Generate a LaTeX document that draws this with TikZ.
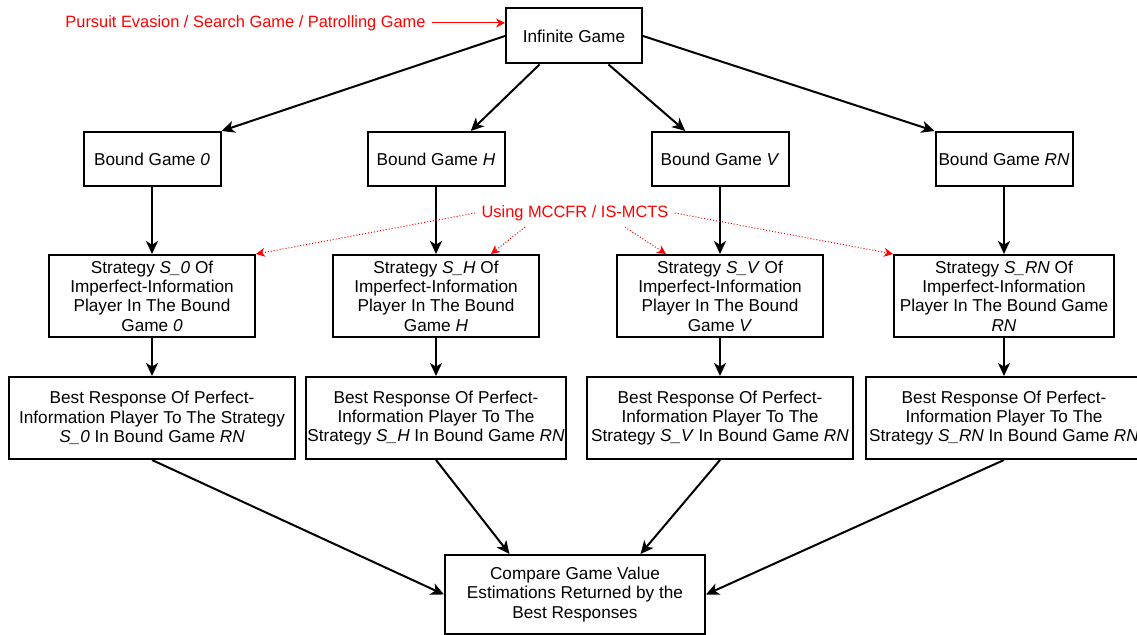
\documentclass[tikz,border=0pt]{standalone}
\usepackage{fontspec}
\setmainfont{Liberation Sans}
\usetikzlibrary{positioning, arrows.meta, calc}
\tikzset{
>={Stealth[length=6.5pt, width=6pt, inset=1.8pt]}, % filled black heads
node distance=142pt, % spacing between the four columns
block/.style={draw, line width=1pt, inner sep=0.5pt, align=center, font=\fontsize{8.6}{9.65}\selectfont}, % every box
game/.style={block, minimum width=68.5pt, minimum height=27pt}, % bound games
strat/.style={block, minimum width=103pt, minimum height=41pt}, % strategies
resp/.style={block, minimum width=133pt, minimum height=41pt}, % best responses
link/.style={->, line width=1pt}, % black connectors
note/.style={text=red, inner sep=3pt, font=\fontsize{8.2}{9.5}\selectfont}, % red remarks
noteline/.style={-{Stealth[length=4.5pt, width=4.5pt]}, red, line width=0.5pt},
dotline/.style={noteline, densely dotted},
}

\begin{document}
\begin{tikzpicture}[x=0.5pt, y=-0.5pt]
                \useasboundingbox (0,0) rectangle (1137,635);
                \fill[white] (0,0) rectangle (1137,635);
                \clip (0,0) rectangle (1137,635);

                \node[block, minimum width=68pt, minimum height=27.5pt] (inf) at (574,36) {Infinite Game};

                \node[game] (bg0) at (152,159) {Bound Game \textit{0}};
                \node[game, right of=bg0] (bgH) {Bound Game \textit{H}};
                \node[game, right of=bgH] (bgV) {Bound Game \textit{V}};
                \node[game, right of=bgV] (bgRN) {Bound Game \textit{RN}};

                \node[strat, below of=bg0, node distance=68.5pt] (st0) {Strategy \textit{S\_0} Of\\Imperfect-Information\\Player In The Bound\\Game \textit{0}};
                \node[strat, right of=st0] (stH) {Strategy \textit{S\_H} Of\\Imperfect-Information\\Player In The Bound\\Game \textit{H}};
                \node[strat, right of=stH] (stV) {Strategy \textit{S\_V} Of\\Imperfect-Information\\Player In The Bound\\Game \textit{V}};
                \node[strat, right of=stV, minimum width=110pt] (stRN) {Strategy \textit{S\_RN} Of\\Imperfect-Information\\Player In The Bound Game\\\textit{RN}};

                \node[resp, below of=st0, node distance=61pt, minimum width=143pt] (br0) {Best Response Of Perfect-\\Information Player To The Strategy\\\textit{S\_0} In Bound Game \textit{RN}};
                \node[resp, right of=br0, minimum width=129.5pt] (brH) {Best Response Of Perfect-\\Information Player To The\\Strategy \textit{S\_H} In Bound Game \textit{RN}};
                \node[resp, right of=brH] (brV) {Best Response Of Perfect-\\Information Player To The\\Strategy \textit{S\_V} In Bound Game \textit{RN}};
                \node[resp, right of=brV, minimum width=138pt] (brRN) {Best Response Of Perfect-\\Information Player To The\\Strategy \textit{S\_RN} In Bound Game \textit{RN}};

                \node[block, minimum width=130pt, minimum height=39.5pt] (cmp) at (575,594.5) {Compare Game Value\\Estimations Returned by the\\Best Responses};

                \node[note] (pe) at (245.5,23) {Pursuit Evasion / Search Game / Patrolling Game};
                \node[note] (us) at (575,213) {Using MCCFR / IS-MCTS};

                \path[link]
                    (inf.west) edge (bg0.north east)
                    ($(inf.south west)!0.25!(inf.south east)$) edge ($(bgH.north west)!0.75!(bgH.north east)$)
                    ($(inf.south west)!0.75!(inf.south east)$) edge ($(bgV.north west)!0.25!(bgV.north east)$)
                    (inf.east) edge (bgRN.north west)
                    %
                    (br0.south) edge (cmp.west)
                    (brH.south) edge ($(cmp.north west)!0.25!(cmp.north east)$)
                    (brV.south) edge ($(cmp.north west)!0.75!(cmp.north east)$)
                    (brRN.south) edge (cmp.east)
                    ;
                \foreach \g in {0,H,V,RN} {
                    \draw[link] (bg\g) -- (st\g);
                    \draw[link] (st\g) -- (br\g);
                }

                \draw[noteline] (pe.east) -- (pe.east -| inf.west);
                \path[dotline]
                    (us.west) edge (st0.north east)
                    ($(us.south west)!0.25!(us.south east)$) edge ([xshift=-24.5pt]stH.north east)
                    ($(us.south west)!0.75!(us.south east)$) edge ([xshift=25pt]stV.north west)
                    (us.east) edge (stRN.north west)
                    ;
                \end{tikzpicture}
\end{document}
